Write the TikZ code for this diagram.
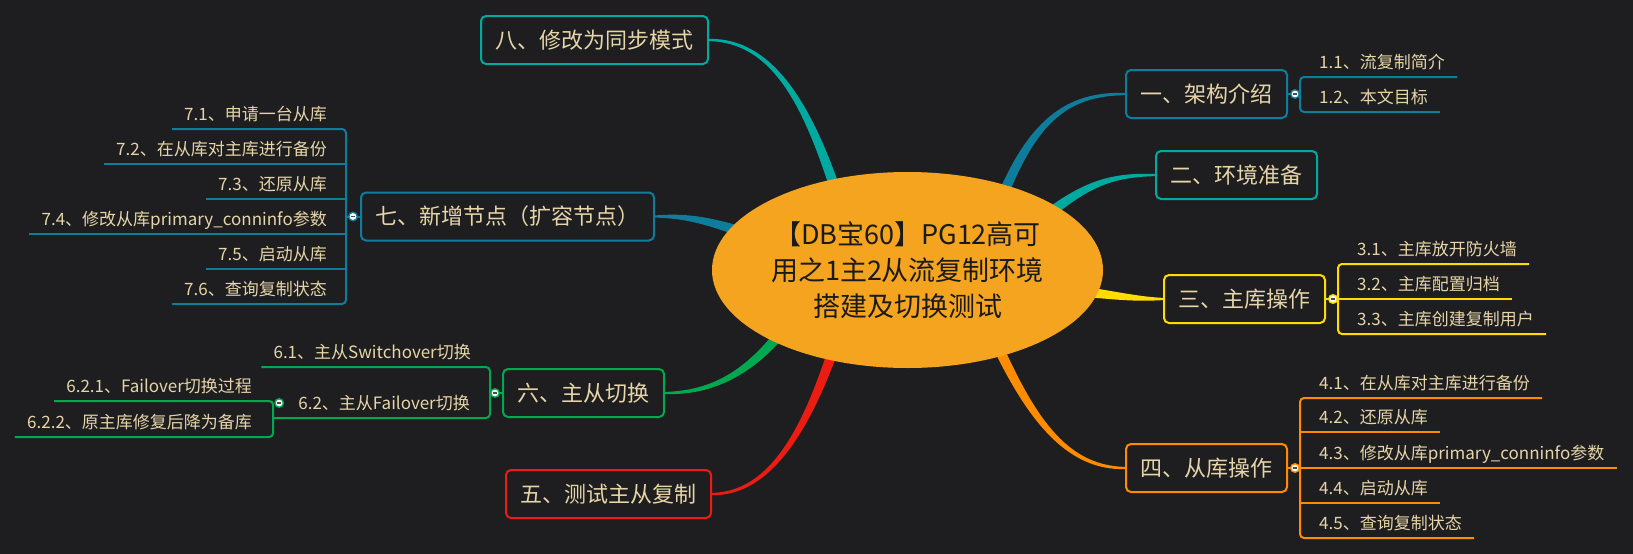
\documentclass[tikz,border=0pt]{standalone}
\usepackage{fontspec}
\setmainfont{Noto Sans CJK SC}
\usetikzlibrary{calc,shapes.geometric}
\definecolor{bg}{HTML}{1E1E20}
\definecolor{txt}{HTML}{E6D5A8}
\definecolor{ctext}{HTML}{1A1A1A}
\definecolor{core}{HTML}{F4A41E}
\definecolor{blue1}{HTML}{0E7C9B}
\definecolor{teal1}{HTML}{00AAA0}
\definecolor{yellow1}{HTML}{FFDD00}
\definecolor{orange1}{HTML}{FF8C00}
\definecolor{red1}{HTML}{EC1C12}
\definecolor{green1}{HTML}{00A850}
\newcommand\mmsub{\fontsize{17}{20}\selectfont}
\newcommand\mmmain{\fontsize{22}{26}\selectfont}
\newcommand\mmcenter{\fontsize{27}{36}\selectfont}
\pgfdeclarelayer{bglayer}
\pgfsetlayers{bglayer,main}
% tapered branch: color, start, ctrl a, ctrl b, end, start half width
\newcommand\mmtaper[6]{%
  \path #2 coordinate (mmS);
  \path #3 coordinate (mmA);
  \path #4 coordinate (mmB);
  \path #5 coordinate (mmE);
  \pgfpointanchor{mmS}{center}\pgfgetlastxy{\mmSx}{\mmSy}%
  \pgfpointanchor{mmA}{center}\pgfgetlastxy{\mmAx}{\mmAy}%
  \pgfpointanchor{mmB}{center}\pgfgetlastxy{\mmBx}{\mmBy}%
  \pgfpointanchor{mmE}{center}\pgfgetlastxy{\mmEx}{\mmEy}%
  \pgfmathsetmacro\mmLa{veclen(\mmAx-\mmSx,\mmAy-\mmSy)}%
  \pgfmathsetmacro\mmNax{-(\mmAy-\mmSy)/\mmLa}%
  \pgfmathsetmacro\mmNay{(\mmAx-\mmSx)/\mmLa}%
  \pgfmathsetmacro\mmLb{veclen(\mmEx-\mmBx,\mmEy-\mmBy)}%
  \pgfmathsetmacro\mmNbx{-(\mmEy-\mmBy)/\mmLb}%
  \pgfmathsetmacro\mmNby{(\mmEx-\mmBx)/\mmLb}%
  \pgfmathsetmacro\mmWs{#6}%
  \pgfmathsetmacro\mmWe{1.1}%
  \pgfmathsetmacro\mmWa{(2*\mmWs+\mmWe)/3}%
  \pgfmathsetmacro\mmWb{(\mmWs+2*\mmWe)/3}%
  \pgfmathsetmacro\pSpx{\mmSx+\mmWs*\mmNax}\pgfmathsetmacro\pSpy{\mmSy+\mmWs*\mmNay}%
  \pgfmathsetmacro\pSmx{\mmSx-\mmWs*\mmNax}\pgfmathsetmacro\pSmy{\mmSy-\mmWs*\mmNay}%
  \pgfmathsetmacro\pApx{\mmAx+\mmWa*\mmNax}\pgfmathsetmacro\pApy{\mmAy+\mmWa*\mmNay}%
  \pgfmathsetmacro\pAmx{\mmAx-\mmWa*\mmNax}\pgfmathsetmacro\pAmy{\mmAy-\mmWa*\mmNay}%
  \pgfmathsetmacro\pBpx{\mmBx+\mmWb*\mmNbx}\pgfmathsetmacro\pBpy{\mmBy+\mmWb*\mmNby}%
  \pgfmathsetmacro\pBmx{\mmBx-\mmWb*\mmNbx}\pgfmathsetmacro\pBmy{\mmBy-\mmWb*\mmNby}%
  \pgfmathsetmacro\pEpx{\mmEx+\mmWe*\mmNbx}\pgfmathsetmacro\pEpy{\mmEy+\mmWe*\mmNby}%
  \pgfmathsetmacro\pEmx{\mmEx-\mmWe*\mmNbx}\pgfmathsetmacro\pEmy{\mmEy-\mmWe*\mmNby}%
  \fill[#1] (\pSpx pt,\pSpy pt) .. controls (\pApx pt,\pApy pt) and (\pBpx pt,\pBpy pt) .. (\pEpx pt,\pEpy pt)
    -- (\pEmx pt,\pEmy pt) .. controls (\pBmx pt,\pBmy pt) and (\pAmx pt,\pAmy pt) .. (\pSmx pt,\pSmy pt) -- cycle;
}
\begin{document}
\begin{tikzpicture}[x=1pt,y=-1pt,
  mainbox/.style={draw=#1, fill=bg, text=txt, line width=2pt, rounded corners=5pt,
    inner xsep=14.5pt, inner ysep=0pt, minimum height=48pt, font=\mmmain,
    text height=18pt, text depth=1.2pt},
  subR/.style={anchor=south west, inner xsep=12pt, inner ysep=8.5pt, text depth=0pt,
    font=\mmsub, text=txt, execute at begin node=\hspace*{7pt}},
  subL/.style={anchor=south east, inner xsep=12pt, inner ysep=8.5pt, text depth=0pt,
    font=\mmsub, text=txt, execute at end node=\hspace*{7pt}},
  lnk/.style={draw=#1, line width=2pt},
  brk/.style={draw=#1, line width=2pt, rounded corners=4pt},
  handle/.style={circle, draw=#1, fill=white, line width=1.4pt, minimum size=8.5pt, inner sep=0pt,
    path picture={\draw[gray!60!black, line width=1.1pt] ([xshift=-2.3pt]path picture bounding box.center) -- ([xshift=2.3pt]path picture bounding box.center);}}
]
\begin{pgfonlayer}{bglayer}
\fill[bg] (0,0) rectangle (1633,554);
\end{pgfonlayer}
\useasboundingbox (0,0) rectangle (1633,554);

% central topic
\node[ellipse, fill=core, minimum width=391pt, minimum height=196pt, inner sep=-6pt,
  align=center, text=ctext, font=\mmcenter] (c) at (907.5,270)
  {【DB宝60】PG12高可\\用之1主2从流复制环境\\搭建及切换测试};

% main topics
\node[mainbox=blue1, anchor=west] (n1) at (1125,94) {一、架构介绍};
\node[mainbox=teal1, anchor=west] (n2) at (1155,175) {二、环境准备};
\node[mainbox=yellow1, anchor=west] (n3) at (1163,299) {三、主库操作};
\node[mainbox=orange1, anchor=west] (n4) at (1125,468) {四、从库操作};
\node[mainbox=red1, anchor=west] (n5) at (505,494) {五、测试主从复制};
\node[mainbox=green1, anchor=east] (n6) at (665,393) {六、主从切换};
\node[mainbox=blue1, anchor=east] (n7) at (655,216.5) {七、新增节点（扩容节点）};
\node[mainbox=teal1, anchor=east] (n8) at (709,40) {八、修改为同步模式};

% branches
\begin{pgfonlayer}{bglayer}
\mmtaper{teal1}{($(c.center)!0.94!(c.131)$)}{(805,100)}{(770,40)}{(n8.east)}{5}
\mmtaper{blue1}{($(c.center)!0.94!(c.39)$)}{(1038,112)}{(1075,94)}{(n1.west)}{5}
\mmtaper{teal1}{($(c.center)!0.94!(c.22)$)}{(1090,182)}{(1115,175)}{(n2.west)}{5}
\mmtaper{yellow1}{($(c.center)!0.94!(c.353)$)}{(1125,297)}{(1140,299)}{(n3.west)}{5}
\mmtaper{orange1}{($(c.center)!0.94!(c.319)$)}{(1035,425)}{(1070,468)}{(n4.west)}{5}
\mmtaper{red1}{($(c.center)!0.94!(c.228)$)}{(805,430)}{(770,494)}{(n5.east)}{5}
\mmtaper{green1}{($(c.center)!0.94!(c.207)$)}{(745,375)}{(710,393)}{(n6.east)}{5}
\mmtaper{blue1}{($(c.center)!0.94!(c.167)$)}{(700,218)}{(680,216)}{(n7.east)}{5}
\end{pgfonlayer}

% group 1
\node[subR] (s11) at (1300,77) {1.1、流复制简介};
\node[subR] (s12) at (1300,112) {1.2、本文目标};
\draw[brk=blue1] (s11.south east) -- (s11.south west) -- (s12.south west) -- (s12.south east);
\draw[lnk=blue1] (n1.east) -- (n1.east -| s11.south west);
\node[handle=blue1] (h1) at ($(n1.east)+(7,0)$) {};

% group 3
\node[subR] (s31) at (1338,264) {3.1、主库放开防火墙};
\node[subR] (s32) at (1338,299) {3.2、主库配置归档};
\node[subR] (s33) at (1338,334) {3.3、主库创建复制用户};
\draw[brk=yellow1] (s31.south east) -- (s31.south west) -- (s33.south west) -- (s33.south east);
\draw[lnk=yellow1] (s32.south west) -- (s32.south east);
\draw[lnk=yellow1] (n3.east) -- (n3.east -| s31.south west);
\node[handle=yellow1] (h3) at ($(n3.east)+(7,0)$) {};

% group 4
\node[subR] (s41) at (1300,398) {4.1、在从库对主库进行备份};
\node[subR] (s42) at (1300,432) {4.2、还原从库};
\node[subR] (s43) at (1300,468) {4.3、修改从库primary\_conninfo参数};
\node[subR] (s44) at (1300,503) {4.4、启动从库};
\node[subR] (s45) at (1300,538) {4.5、查询复制状态};
\draw[brk=orange1] (s41.south east) -- (s41.south west) -- (s45.south west) -- (s45.south east);
\draw[lnk=orange1] (s42.south west) -- (s42.south east);
\draw[lnk=orange1] (s43.south west) -- (s43.south east);
\draw[lnk=orange1] (s44.south west) -- (s44.south east);
\draw[lnk=orange1] (n4.east) -- (n4.east -| s41.south west);
\node[handle=orange1] (h4) at ($(n4.east)+(7,0)$) {};

% group 7
\node[subL] (s71) at (346,129) {7.1、申请一台从库};
\node[subL] (s72) at (346,164) {7.2、在从库对主库进行备份};
\node[subL] (s73) at (346,199) {7.3、还原从库};
\node[subL] (s74) at (346,234) {7.4、修改从库primary\_conninfo参数};
\node[subL] (s75) at (346,269) {7.5、启动从库};
\node[subL] (s76) at (346,304) {7.6、查询复制状态};
\draw[brk=blue1] (s71.south west) -- (s71.south east) -- (s76.south east) -- (s76.south west);
\draw[lnk=blue1] (s72.south west) -- (s72.south east);
\draw[lnk=blue1] (s73.south west) -- (s73.south east);
\draw[lnk=blue1] (s74.south west) -- (s74.south east);
\draw[lnk=blue1] (s75.south west) -- (s75.south east);
\draw[lnk=blue1] (n7.west) -- (n7.west -| s71.south east);
\node[handle=blue1] (h7) at ($(n7.west)+(-7,0)$) {};

% group 6
\node[subL] (s61) at (490,367) {6.1、主从Switchover切换};
\node[anchor=south east, inner xsep=12pt, inner ysep=8.5pt, text depth=0pt, font=\mmsub, text=txt]
  (s62) at (490,418) {\hspace*{13pt}6.2、主从Failover切换\hspace*{8pt}};
\node[subL, execute at end node=\hspace*{2pt}] (s621) at ($(s62.south west)+(0,-17)$) {6.2.1、Failover切换过程};
\node[subL, execute at end node=\hspace*{2pt}] (s622) at ($(s62.south west)+(0,19)$) {6.2.2、原主库修复后降为备库};
\draw[brk=green1] (s61.south west) -- (s61.south east) -- (s62.south east) -- (s62.south west);
\draw[brk=green1] (s621.south west) -- (s621.south east) -- (s622.south east) -- (s622.south west);
\draw[lnk=green1] (n6.west) -- (n6.west -| s61.south east);
\node[handle=green1] (h6) at ($(n6.west)+(-7,0)$) {};
\node[handle=green1] (h62) at ($(s62.south west)+(6,-15)$) {};
\end{tikzpicture}
\end{document}
